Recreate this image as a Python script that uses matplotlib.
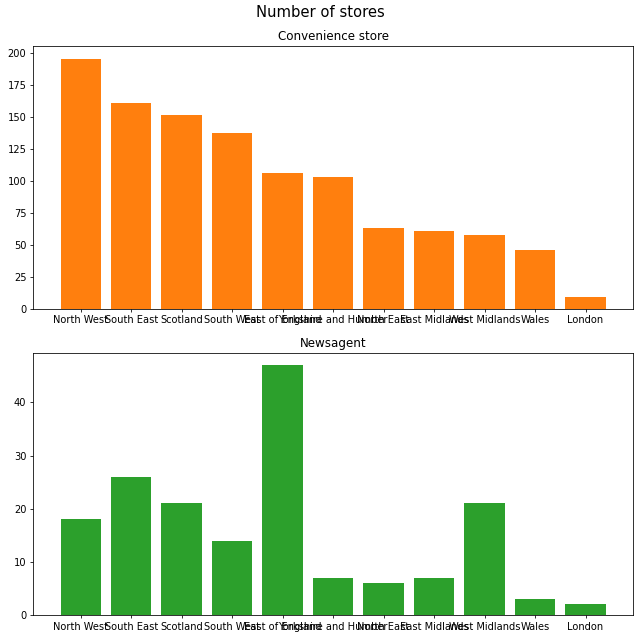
import matplotlib
matplotlib.use("Agg")
import matplotlib.pyplot as plt

regions = ["North West", "South East", "Scotland", "South West", "East of England",
           "Yorkshire and Humber", "North East", "East Midlands", "West Midlands",
           "Wales", "London"]
convenience = [196, 161, 152, 138, 106, 103, 63, 61, 58, 46, 9]
newsagent = [18, 26, 21, 14, 47, 7, 6, 7, 21, 3, 2]

fig, (ax1, ax2) = plt.subplots(2, 1, figsize=(9, 9), dpi=640 / 9)
fig.suptitle("Number of stores", fontsize=15, y=0.992)

ax1.bar(regions, convenience, color="tab:orange")
ax1.set_title("Convenience store")

ax2.bar(regions, newsagent, color="tab:green")
ax2.set_title("Newsagent")

fig.subplots_adjust(left=0.052, right=0.989, top=0.928, bottom=0.039, hspace=0.168)
plt.savefig("out.png", dpi=640 / 9)
